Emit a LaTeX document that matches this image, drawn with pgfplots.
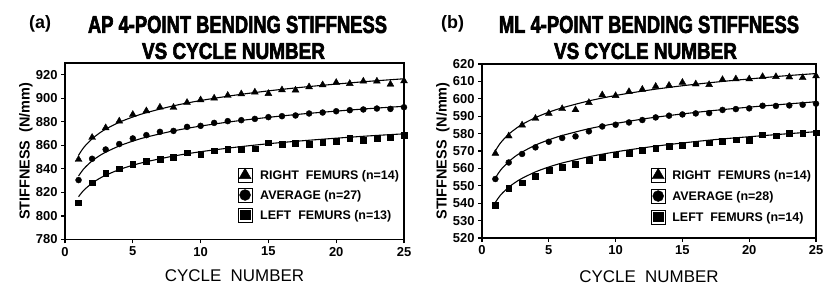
\documentclass[border=0pt]{standalone}
\usepackage{fontspec}
\setmainfont{Liberation Sans}
\newfontfamily\heavy{Liberation Sans}[BoldFeatures={FakeBold=3}]
\usepackage{graphicx}
\usepackage{pgfplots}
\usepackage{pgfplotstable}
\pgfplotsset{compat=1.18}

\pgfplotstableread{
n  r      a      l
1  848.0  830.5  811.3
2  866.7  848.6  828.2
3  874.9  856.5  836.2
4  880.6  861.1  840.1
5  886.2  865.9  844.1
6  889.3  868.7  846.6
7  892.4  871.5  848.3
8  892.2  872.3  849.8
9  896.4  875.7  853.7
10 898.6  876.6  852.3
11 900.1  879.1  855.4
12 902.4  880.6  856.8
13 903.7  881.4  856.5
14 905.2  882.5  857.1
15 904.0  884.0  862.2
16 907.1  884.8  860.8
17 906.9  885.4  861.6
18 909.7  887.1  861.3
19 911.4  887.9  862.5
20 913.4  889.0  863.3
21 912.5  889.9  866.1
22 914.5  890.5  864.4
23 914.5  891.3  866.1
24 911.9  891.0  866.9
25 914.7  892.4  868.4
}\dataA

\pgfplotstableread{
x     r      a      l
1     851.6  834.0  816.4
1.25  856.1  838.1  820.1
1.5   859.8  841.5  823.1
2     865.6  846.8  827.9
2.5   870.1  850.9  831.6
3     873.8  854.2  834.6
4     879.6  859.5  839.4
5     884.1  863.6  843.1
6     887.8  867.0  846.1
8     893.6  872.3  850.9
10    898.1  876.4  854.6
12.5  902.6  880.5  858.3
15    906.3  883.8  861.4
17.5  909.4  886.7  863.9
20    912.1  889.1  866.1
22.5  914.5  891.3  868.1
25    916.6  893.2  869.8
}\trendA

\pgfplotstableread{
n  r      a      l
1  568.6  553.9  539.0
2  578.6  563.4  548.7
3  584.9  568.3  551.8
4  588.7  572.1  555.6
5  591.6  575.3  558.9
6  594.3  577.5  560.8
7  593.7  578.4  562.5
8  597.8  581.3  564.8
9  602.2  584.1  566.3
10 601.8  585.1  567.9
11 604.1  586.4  568.8
12 605.4  587.8  570.3
13 607.1  589.3  571.7
14 607.7  590.3  572.9
15 609.4  591.0  573.2
16 608.5  591.6  574.2
17 608.1  591.8  574.8
18 611.0  593.6  575.7
19 611.4  594.1  576.5
20 611.4  594.5  576.3
21 612.7  596.0  579.4
22 612.7  595.9  578.8
23 612.5  596.2  580.1
24 612.1  596.6  580.1
25 613.1  597.2  580.5
}\dataB

\pgfplotstableread{
x     r      a      l
1     570.1  554.5  540.5
1.25  573.2  557.5  543.3
1.5   575.7  560.0  545.6
2     579.7  563.9  549.2
2.5   582.7  567.0  552.0
3     585.3  569.4  554.3
4     589.2  573.4  558.0
5     592.3  576.4  560.8
6     594.8  578.9  563.1
8     598.8  582.8  566.7
10    601.9  585.8  569.5
12.5  605.0  588.9  572.3
15    607.5  591.3  574.6
17.5  609.6  593.4  576.6
20    611.4  595.2  578.2
22.5  613.1  596.8  579.7
25    614.5  598.3  581.1
}\trendB

\newcommand\legmark[2]{%
  \path[use as bounding box] (-7pt,-7pt) rectangle (7pt,7pt);
  \pgfsetlinewidth{0.4pt}\pgfsetfillcolor{black}\pgfsetstrokecolor{black}%
  \pgfsetplotmarksize{#2}\pgfuseplotmark{#1}}

\pgfplotsset{
  stiff/.style={
    scale only axis,
    axis line style={line width=1.6pt},
    tick style={line width=1.2pt, black},
    major tick length=4pt,
    tick align=outside,
    xtick pos=lower, ytick pos=left,
    xmin=0, xmax=25, xtick={0,5,...,25},
    /pgf/number format/assume math mode=true,
    tick label style={font=\bfseries\fontsize{13}{13}\selectfont},
    xlabel={CYCLE\ \ NUMBER},
    ylabel={STIFFNESS\ \ (N/mm)},
    xlabel style={font=\fontsize{17}{17}\selectfont, anchor=center},
    ylabel style={font=\bfseries\fontsize{14.5}{14.5}\selectfont, anchor=center},
    legend cell align=left,
    legend style={draw=none, fill=none, inner sep=0pt, outer sep=0pt,
      font=\bfseries\fontsize{12.5}{13}\selectfont, column sep=8pt, row sep=5.5pt,
      nodes={inner sep=0pt, text height=9pt, text depth=0pt}},
  },
  trend/.style={black, line width=1.1pt, no marks, smooth, forget plot},
  tri/.style={only marks, black, mark=triangle*, mark size=4pt, forget plot},
  cir/.style={only marks, black, mark=*, mark size=3pt, forget plot},
  sqr/.style={only marks, black, mark=square*, mark size=2.9pt, forget plot},
  legtri/.style={legend image code/.code={\legmark{triangle*}{7pt}}},
  legcir/.style={legend image code/.code={\legmark{*}{5.5pt}}},
  legsqr/.style={legend image code/.code={\legmark{square*}{4.8pt}}},
}

\begin{document}
\begin{tikzpicture}[x=1bp,y=1bp]
\useasboundingbox (0,0) rectangle (824,286);

% ---- titles ----
\node[anchor=west, inner sep=0pt] at (29,262) {\bfseries\fontsize{18}{18}\selectfont (a)};
\node[anchor=center, inner sep=0pt] at (237.5,261.5) {\resizebox{299bp}{17bp}{\heavy\bfseries AP\ 4-POINT\ BENDING\ STIFFNESS}};
\node[anchor=center, inner sep=0pt] at (233.5,235) {\resizebox{183bp}{16bp}{\heavy\bfseries VS\ CYCLE\ NUMBER}};

\node[anchor=west, inner sep=0pt] at (441,262) {\bfseries\fontsize{18}{18}\selectfont (b)};
\node[anchor=center, inner sep=0pt] at (649,261.5) {\resizebox{300bp}{17bp}{\heavy\bfseries ML\ 4-POINT\ BENDING\ STIFFNESS}};
\node[anchor=center, inner sep=0pt] at (645.5,235) {\resizebox{183bp}{16bp}{\heavy\bfseries VS\ CYCLE\ NUMBER}};

% ---- panel (a) ----
\begin{axis}[stiff, at={(65bp,46.5bp)}, anchor=south west, width=339bp, height=176.5bp,
  ymin=780, ymax=930, ytick={780,800,...,920},
  xlabel style={at={(axis description cs:0.5,-0.207)}},
  ylabel style={at={(axis description cs:-0.115,0.5)}},
  legend style={at={(0.51,0.405)}, anchor=north west}]
\addlegendimage{legtri}
\addlegendentry{RIGHT\ \ FEMURS (n=14)}
\addlegendimage{legcir}
\addlegendentry{AVERAGE (n=27)}
\addlegendimage{legsqr}
\addlegendentry{LEFT\ \ FEMURS (n=13)}
\addplot[trend] table[x=x, y=r] {\trendA};
\addplot[trend] table[x=x, y=a] {\trendA};
\addplot[trend] table[x=x, y=l] {\trendA};
\addplot[tri] table[x=n, y=r] {\dataA};
\addplot[cir] table[x=n, y=a] {\dataA};
\addplot[sqr] table[x=n, y=l] {\dataA};
\end{axis}

% ---- panel (b) ----
\begin{axis}[stiff, at={(482bp,48bp)}, anchor=south west, width=334bp, height=174bp,
  ymin=520, ymax=620, ytick={520,530,...,620},
  xlabel style={at={(axis description cs:0.5,-0.222)}},
  ylabel style={at={(axis description cs:-0.117,0.5)}},
  legend style={at={(0.506,0.402)}, anchor=north west, row sep=6.5pt, column sep=7pt}]
\addlegendimage{legtri}
\addlegendentry{RIGHT\ \ FEMURS (n=14)}
\addlegendimage{legcir}
\addlegendentry{AVERAGE (n=28)}
\addlegendimage{legsqr}
\addlegendentry{LEFT\ \ FEMURS (n=14)}
\addplot[trend] table[x=x, y=r] {\trendB};
\addplot[trend] table[x=x, y=a] {\trendB};
\addplot[trend] table[x=x, y=l] {\trendB};
\addplot[tri] table[x=n, y=r] {\dataB};
\addplot[cir] table[x=n, y=a] {\dataB};
\addplot[sqr] table[x=n, y=l] {\dataB};
\end{axis}
\end{tikzpicture}
\end{document}
